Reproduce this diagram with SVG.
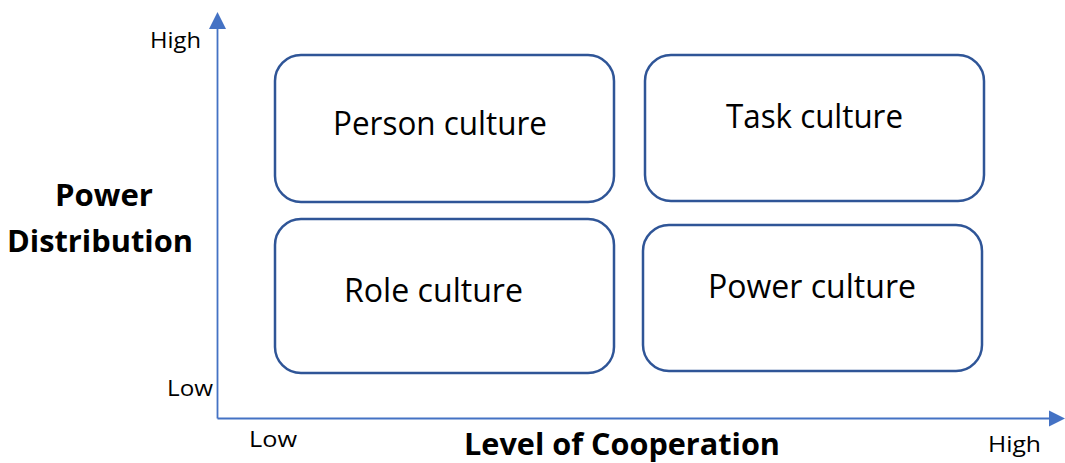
<svg xmlns="http://www.w3.org/2000/svg" width="1065" height="463" viewBox="0 0 1065 463">
  <style>
    .box { fill: #ffffff; stroke: #2F5597; stroke-width: 2.5; }
    .axis { stroke: #4472C4; stroke-width: 1.8; fill: none; }
    .lbl { font-family: "Open Sans", "Liberation Sans", sans-serif; font-size: 32px; fill: #000; }
    .tick { font-family: "Open Sans", "Liberation Sans", sans-serif; font-size: 22.5px; fill: #000; }
    .title { font-family: "Open Sans", "Liberation Sans", sans-serif; font-size: 30px; font-weight: bold; fill: #000; }
  </style>

  <!-- axes -->
  <g id="connectors">
    <line class="axis" x1="217.5" y1="418.5" x2="217.5" y2="28"/>
    <path d="M209,29 L217.5,12 L226,29 Z" fill="#4472C4"/>
    <line class="axis" x1="217.5" y1="418.5" x2="1050" y2="418.5"/>
    <path d="M1049,410.5 L1065,418.5 L1049,426.5 Z" fill="#4472C4"/>
  </g>

  <!-- axis labels -->
  <g id="axis-labels">
    <text class="tick" x="150" y="48" textLength="51" lengthAdjust="spacingAndGlyphs">High</text>
    <text class="tick" x="167" y="396" textLength="46" lengthAdjust="spacingAndGlyphs">Low</text>
    <text class="tick" x="249" y="447" textLength="48" lengthAdjust="spacingAndGlyphs">Low</text>
    <text class="tick" x="988" y="452" textLength="53" lengthAdjust="spacingAndGlyphs">High</text>
    <text class="title" x="104" y="206" text-anchor="middle" textLength="98" lengthAdjust="spacingAndGlyphs">Power</text>
    <text class="title" x="100" y="252" text-anchor="middle" textLength="186" lengthAdjust="spacingAndGlyphs">Distribution</text>
    <text class="title" x="622" y="455" text-anchor="middle" textLength="316" lengthAdjust="spacingAndGlyphs">Level of Cooperation</text>
  </g>

  <g id="person-culture">
    <rect class="box" x="275" y="55" width="339" height="147" rx="26"/>
    <text class="lbl" x="333" y="135" textLength="214" lengthAdjust="spacingAndGlyphs">Person culture</text>
  </g>

  <g id="task-culture">
    <rect class="box" x="645" y="55" width="339" height="146" rx="26"/>
    <text class="lbl" x="726" y="128" textLength="177" lengthAdjust="spacingAndGlyphs">Task culture</text>
  </g>

  <g id="role-culture">
    <rect class="box" x="275" y="219" width="339" height="154" rx="26"/>
    <text class="lbl" x="344" y="302" textLength="179" lengthAdjust="spacingAndGlyphs">Role culture</text>
  </g>

  <g id="power-culture">
    <rect class="box" x="643" y="225" width="339" height="146" rx="26"/>
    <text class="lbl" x="708" y="298" textLength="208" lengthAdjust="spacingAndGlyphs">Power culture</text>
  </g>
</svg>
